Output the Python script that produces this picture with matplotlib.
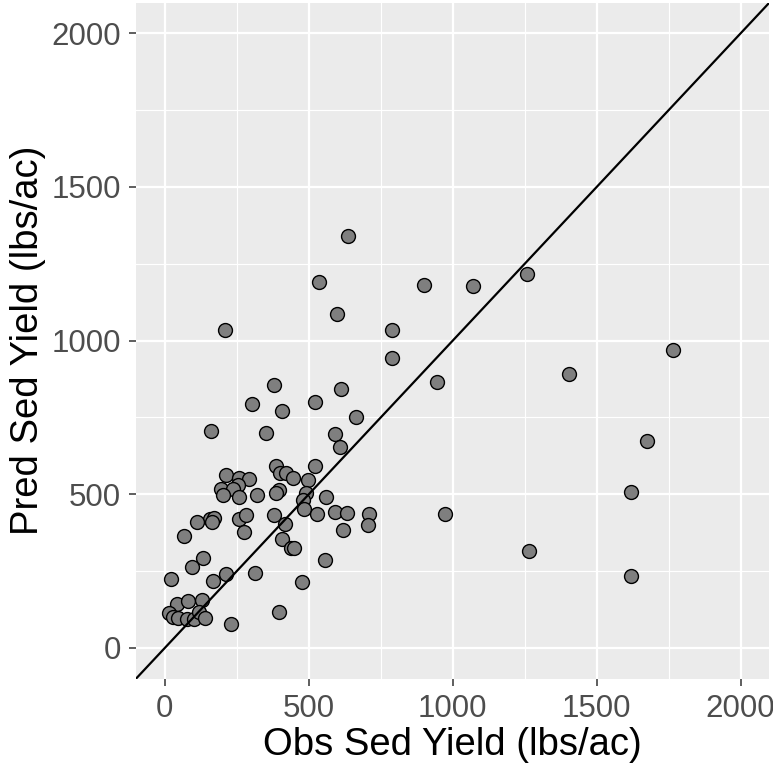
import numpy as np
import matplotlib
matplotlib.use("Agg")
import matplotlib.pyplot as plt

obs = [379, 613, 303, 407, 520, 665, 159, 351, 590, 607,
       385, 399, 420, 446, 520, 499, 214, 257, 292, 255,
       196, 237, 203, 258, 319, 396, 385, 490, 481, 559,
       485, 379, 528, 592, 633, 708, 706, 620, 416, 156,
       172, 163, 112, 258, 281, 274, 67, 408, 437, 448,
       133, 95, 557, 20, 168, 211, 313, 478, 41, 79,
       129, 15, 29, 46, 77, 101, 118, 139, 396, 230,
       638, 536, 597, 210, 788, 899, 1070, 1258, 788, 944,
       1764, 1405, 1676, 1618, 1264, 1618, 973]
pred = [856, 842, 794, 771, 800, 753, 706, 701, 697, 653,
        593, 570, 570, 552, 593, 547, 562, 554, 551, 530,
        516, 516, 497, 490, 497, 514, 503, 503, 482, 491,
        451, 433, 435, 442, 439, 436, 400, 385, 404, 420,
        422, 410, 409, 421, 432, 376, 363, 355, 324, 324,
        292, 265, 286, 225, 217, 241, 245, 214, 143, 152,
        156, 113, 100, 99, 94, 93, 118, 99, 118, 78,
        1342, 1191, 1088, 1036, 1036, 1182, 1178, 1217, 944, 867,
        971, 892, 675, 507, 315, 234, 437]

ticks = [0, 500, 1000, 1500, 2000]
minor = [250, 750, 1250, 1750]

fig = plt.figure(figsize=(7.73, 7.71), dpi=100)
W, H = 773, 771
ax = fig.add_axes([136 / W, (H - 678.7) / H, (769.4 - 136) / W, (678.7 - 2.6) / H])
ax.set_facecolor("#EBEBEB")
for s in ax.spines.values():
    s.set_visible(False)

# grid like ggplot theme_gray
for v in minor:
    ax.axvline(v, color="white", lw=0.8, zorder=0)
    ax.axhline(v, color="white", lw=0.8, zorder=0)
for v in ticks:
    ax.axvline(v, color="white", lw=1.6, zorder=0)
    ax.axhline(v, color="white", lw=1.6, zorder=0)

ax.scatter(obs, pred, s=100, c="#7F7F7F", edgecolors="black", linewidths=1.0, zorder=2)
ax.axline((0, 0), slope=1, color="black", lw=1.6, zorder=3)

ax.set_xlim(-100, 2100)
ax.set_ylim(-100, 2100)
ax.set_xticks(ticks)
ax.set_yticks(ticks)
ax.tick_params(length=5, width=1.1, color="#333333", labelcolor="#4D4D4D",
               labelsize=22.5, pad=6)
for lab in ax.get_xticklabels() + ax.get_yticklabels():
    lab.set_family("Liberation Sans")

ax.set_xlabel("Obs Sed Yield (lbs/ac)", fontsize=27.5, family="Liberation Sans", labelpad=2)
ax.set_ylabel("Pred Sed Yield (lbs/ac)", fontsize=27.5, family="Liberation Sans", labelpad=4)

fig.savefig("out.png", dpi=100)
